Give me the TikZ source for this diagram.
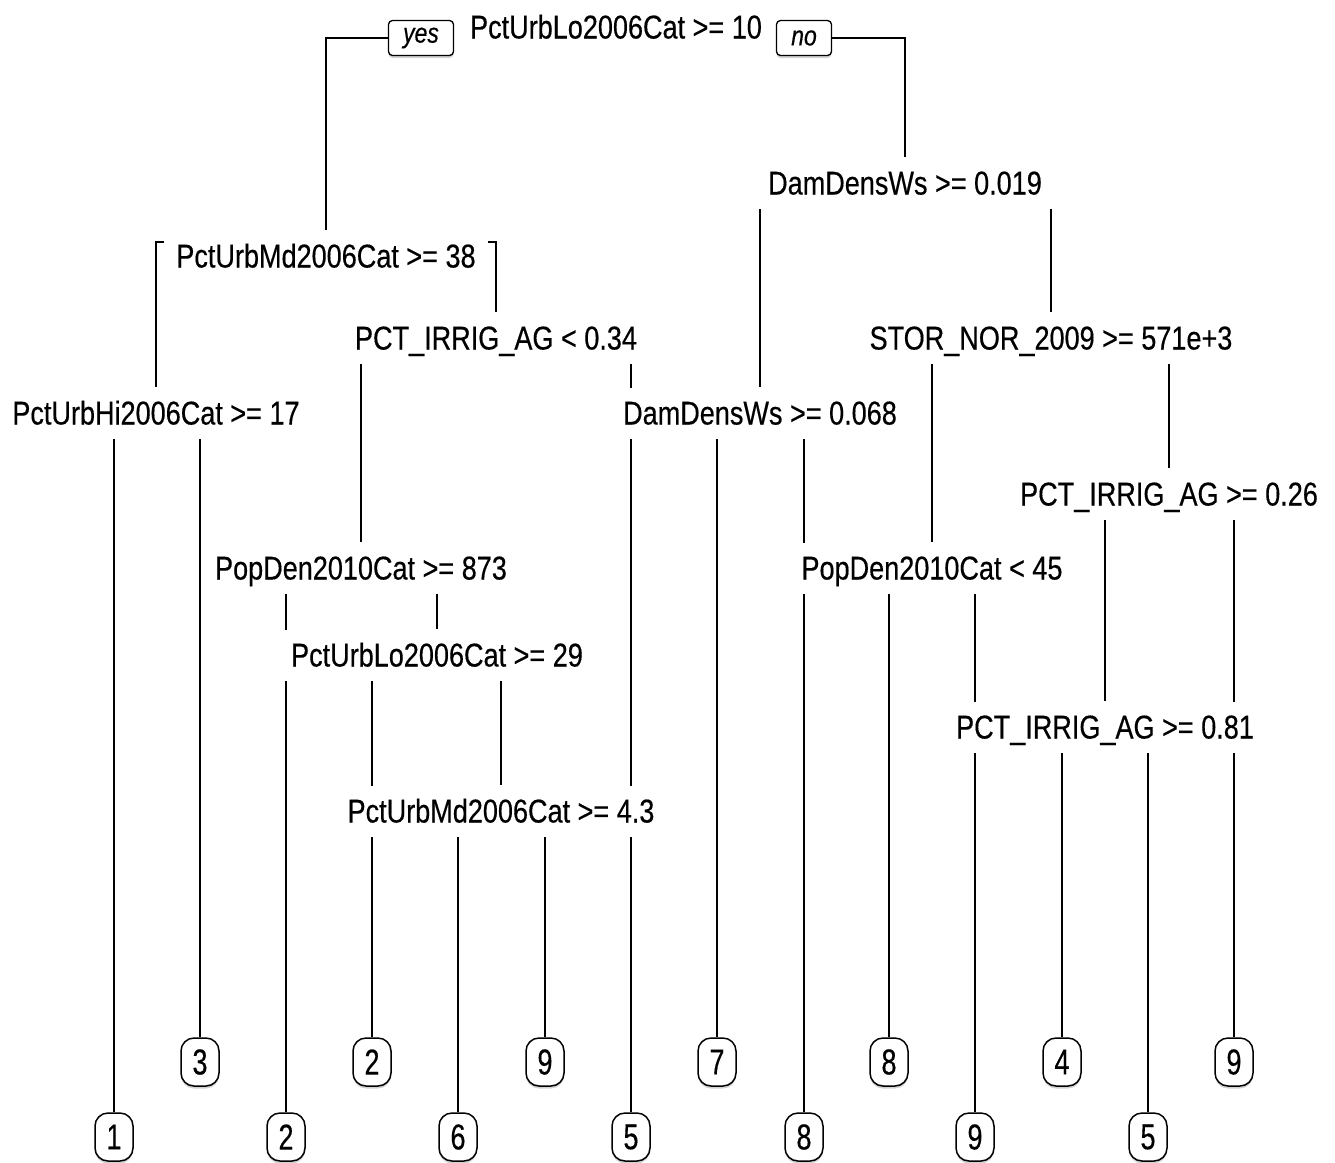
\documentclass[tikz,border=0pt]{standalone}
\usepackage{fontspec}
\setmainfont{Liberation Sans}[FakeStretch=0.82, FakeBold=0.4]
\newfontfamily\leaffont{Liberation Sans}[FakeStretch=0.75, FakeBold=0.4]
\usetikzlibrary{shadows}
\pgfdeclarelayer{background}
\pgfsetlayers{background,main}
\begin{document}
\begin{tikzpicture}[x=1pt,y=-1pt,
  lab/.style={fill=white, inner xsep=12pt, inner ysep=14pt, text height=23pt, text depth=0pt,
    font=\fontsize{33}{33}\selectfont},
  leaf/.style={draw, line width=1.5pt, fill=white, rounded corners=13pt, minimum width=38pt,
    minimum height=48pt, inner sep=0pt, font=\leaffont\fontsize{36}{36}\selectfont,
    drop shadow={shadow xshift=0pt, shadow yshift=-2.5pt, fill=black!35}},
  yn/.style={draw, line width=1.3pt, fill=white, rounded corners=4pt, minimum height=35pt,
    inner sep=0pt, font=\itshape\fontsize{28}{28}\selectfont,
    drop shadow={shadow xshift=0pt, shadow yshift=-2.5pt, fill=black!35}},
  edge/.style={line width=1.5pt}]
\path[use as bounding box] (0,0) rectangle (1335,1162);
% split nodes
\node[lab] (n1) at (616,27) {PctUrbLo2006Cat >= 10};
\node[yn, minimum width=65pt] (yes) at (421,38) {yes};
\node[yn, minimum width=55pt] (no) at (804,38) {no};
\node[lab] (n2) at (326,256) {PctUrbMd2006Cat >= 38};
\node[lab] (n3) at (156,413) {PctUrbHi2006Cat >= 17};
\node[lab] (n4) at (496,338) {PCT\_IRRIG\_AG < 0.34};
\node[lab] (n5) at (905,183) {DamDensWs >= 0.019};
\node[lab] (n6) at (361,568) {PopDen2010Cat >= 873};
\node[lab] (n7) at (760,413) {DamDensWs >= 0.068};
\node[lab] (n8) at (1051,338) {STOR\_NOR\_2009 >= 571e+3};
\node[lab] (n9) at (437,655) {PctUrbLo2006Cat >= 29};
\node[lab] (n10) at (932,568) {PopDen2010Cat < 45};
\node[lab] (n11) at (1169,494) {PCT\_IRRIG\_AG >= 0.26};
\node[lab] (n12) at (501,811) {PctUrbMd2006Cat >= 4.3};
\node[lab] (n13) at (1105,727) {PCT\_IRRIG\_AG >= 0.81};
% leaves
\node[leaf] (l1) at (114,1137) {1};
\node[leaf] (l3) at (200,1062) {3};
\node[leaf] (l2b) at (286,1137) {2};
\node[leaf] (l2t) at (372,1062) {2};
\node[leaf] (l6) at (458,1137) {6};
\node[leaf] (l9a) at (545,1062) {9};
\node[leaf] (l5a) at (631,1137) {5};
\node[leaf] (l7) at (717,1062) {7};
\node[leaf] (l8b) at (804,1137) {8};
\node[leaf] (l8t) at (889,1062) {8};
\node[leaf] (l9b) at (975,1137) {9};
\node[leaf] (l4) at (1062,1062) {4};
\node[leaf] (l5b) at (1148,1137) {5};
\node[leaf] (l9c) at (1234,1062) {9};
% connectors
\begin{pgfonlayer}{background}
\draw[edge] (yes.west) -| (n2.north);
\draw[edge] (no.east) -| (n5.north);
\foreach \p/\c in {n2/n3, n2/n4, n3/l1, n3/l3, n4/n6, n4/l5a, n5/n7, n5/n8,
  n6/l2b, n6/n9, n7/l7, n7/l8b, n8/n10, n8/n11, n9/l2t, n9/n12, n10/l8t, n10/l9b,
  n11/n13, n11/l9c, n12/l6, n12/l9a, n13/l4, n13/l5b}
  \draw[edge] ([yshift=14pt]\p.center) -| (\c.north);
\end{pgfonlayer}
\end{tikzpicture}
\end{document}
